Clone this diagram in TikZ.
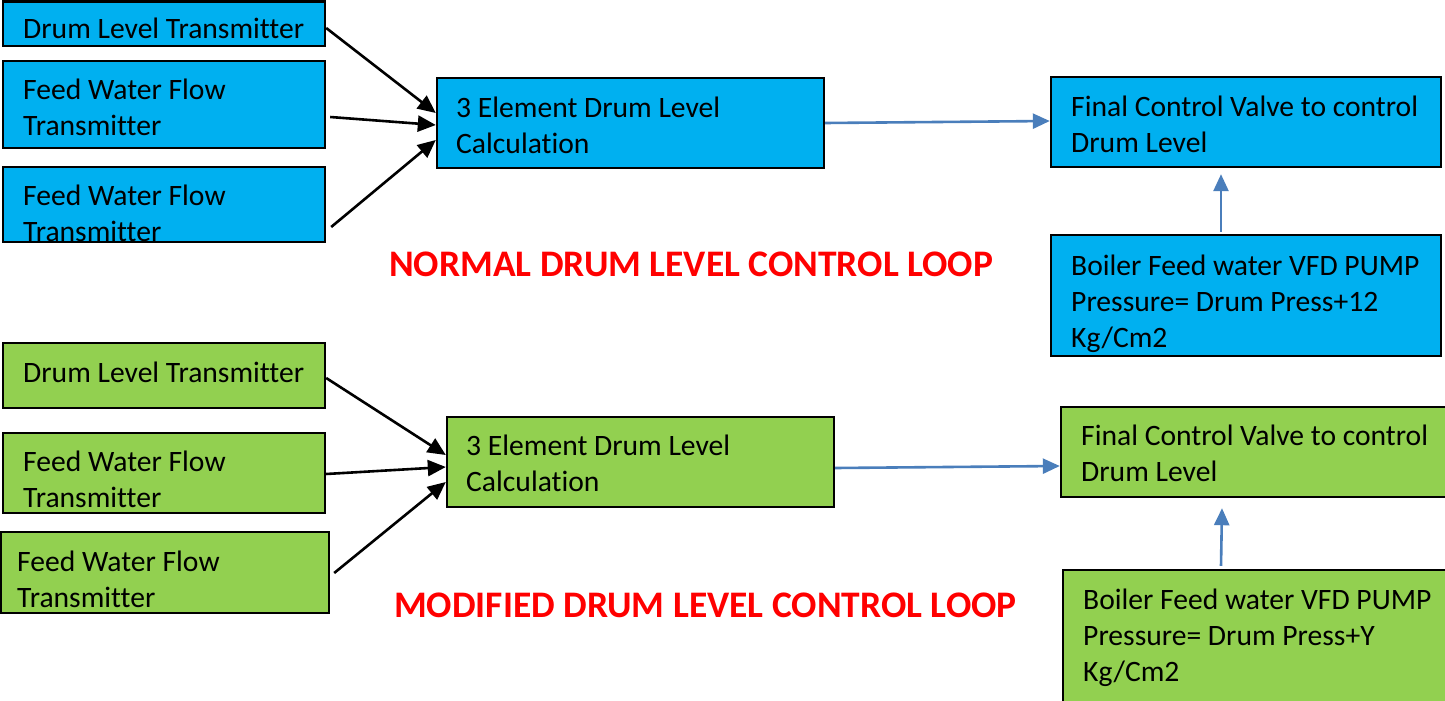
\documentclass[tikz,border=0pt]{standalone}
\usepackage{fontspec}
\setmainfont{Carlito}[Ligatures=NoCommon]
\usetikzlibrary{arrows.meta,calc}

\definecolor{skyfill}{HTML}{00B0F0}
\definecolor{leaffill}{HTML}{92D050}
\definecolor{linkblue}{HTML}{4A7EBB}
\definecolor{titlered}{HTML}{FF0000}

% Box drawn from its corner coordinates: #1 name, #2 fill, (x1,y1) (x2,y2)
\newcommand{\blockbox}[6]{%
  \node[blockframe, fill=#2,
        minimum width={(#5)-(#3)}, minimum height={(#6)-(#4)}]
    (#1) at ({((#3)+(#5))/2},{((#4)+(#6))/2}) {};}

\begin{document}
\begin{tikzpicture}[x=1pt, y=-1pt,
  blockframe/.style={draw=black, line width=2.4pt, rectangle, inner sep=0pt},
  % text nodes are placed by the baseline of their last line
  blocktext/.style={anchor=base west, inner sep=0pt, align=left,
    font=\fontsize{29.6}{35.8}\selectfont},
  looptitle/.style={anchor=base west, inner sep=0pt, text=titlered,
    font=\fontsize{37.5}{45}\selectfont\bfseries},
  feedarrow/.style={draw=black, line width=2.6pt,
    -{Triangle[length=18pt, width=16pt]}},
  linkarrow/.style={draw=linkblue, line width=2.6pt,
    -{Triangle[length=17pt, width=15pt]}},
]
\useasboundingbox (0,0) rectangle (1445,701);

% ---------- normal loop ----------
\blockbox{dlt1}{skyfill}{3}{1.5}{325}{46}
\blockbox{fwa1}{skyfill}{3}{61}{325}{148}
\blockbox{fwb1}{skyfill}{3}{167}{325}{242}
\blockbox{calc1}{skyfill}{437}{78}{824}{168}
\blockbox{fcv1}{skyfill}{1051}{77}{1441}{167}
\blockbox{boil1}{skyfill}{1051}{235}{1441}{356}

\node[blocktext] (dlt1t) at (23,39) {Drum Level Transmitter};
\node[blocktext] (fwa1t) at (23,135) {Feed Water Flow\\Transmitter};
\node[blocktext] (fwb1t) at (23,241) {Feed Water Flow\\Transmitter};
\node[blocktext] (calc1t) at (456,153) {3 Element Drum Level\\Calculation};
\node[blocktext] (fcv1t) at (1071,152) {Final Control Valve to control\\Drum Level};
\node[blocktext] (boil1t) at (1071,347) {Boiler Feed water VFD PUMP\\Pressure= Drum Press+12\\Kg/Cm2};

\node[looptitle] (title1) at (389,276) {NORMAL DRUM LEVEL CONTROL LOOP};

\draw[feedarrow] ($(dlt1.east)+(0,4.25)$) -- ($(calc1.west)+(0,-10)$);
\draw[feedarrow] ($(fwa1.east)+(4,12.5)$) -- ($(calc1.west)+(0,2)$);
\draw[feedarrow] ($(fwb1.east)+(5,22.5)$) -- ($(calc1.west)+(0,17)$);
\draw[linkarrow] (calc1.east) -- ($(fcv1.west)+(0,-1)$);
\draw[linkarrow] ($(boil1.north)+(-25,-2)$) -- ($(fcv1.south)+(-25,6)$);

% ---------- modified loop ----------
\blockbox{dlt2}{leaffill}{3}{343}{325}{408}
\blockbox{fwa2}{leaffill}{3}{433}{325}{513}
\blockbox{fwb2}{leaffill}{1}{532}{329}{613}
\blockbox{calc2}{leaffill}{447}{417}{834}{507}
\blockbox{fcv2}{leaffill}{1061}{407}{1448}{497}
\blockbox{boil2}{leaffill}{1063}{570}{1448}{703}

\node[blocktext] (dlt2t) at (23,382) {Drum Level Transmitter};
\node[blocktext] (fwa2t) at (23,507) {Feed Water Flow\\Transmitter};
\node[blocktext] (fwb2t) at (17,607) {Feed Water Flow\\Transmitter};
\node[blocktext] (calc2t) at (466,491) {3 Element Drum Level\\Calculation};
\node[blocktext] (fcv2t) at (1081,481) {Final Control Valve to control\\Drum Level};
\node[blocktext] (boil2t) at (1083,681) {Boiler Feed water VFD PUMP\\Pressure= Drum Press+Y\\Kg/Cm2};

\node[looptitle] (title2) at (394,617) {MODIFIED DRUM LEVEL CONTROL LOOP};

\draw[feedarrow] ($(dlt2.east)+(0,2.5)$) -- ($(calc2.west)+(0,-7)$);
\draw[feedarrow] ($(fwa2.east)+(0,1)$) -- ($(calc2.west)+(0,5)$);
\draw[feedarrow] ($(fwb2.east)+(4,0.5)$) -- ($(calc2.west)+(0,20)$);
\draw[linkarrow] ($(calc2.east)+(0,6)$) -- ($(fcv2.west)+(0,14)$);
\draw[linkarrow] ($(boil2.north)+(-34.5,-3)$) -- ($(fcv2.south)+(-32.5,10)$);
\end{tikzpicture}
\end{document}
